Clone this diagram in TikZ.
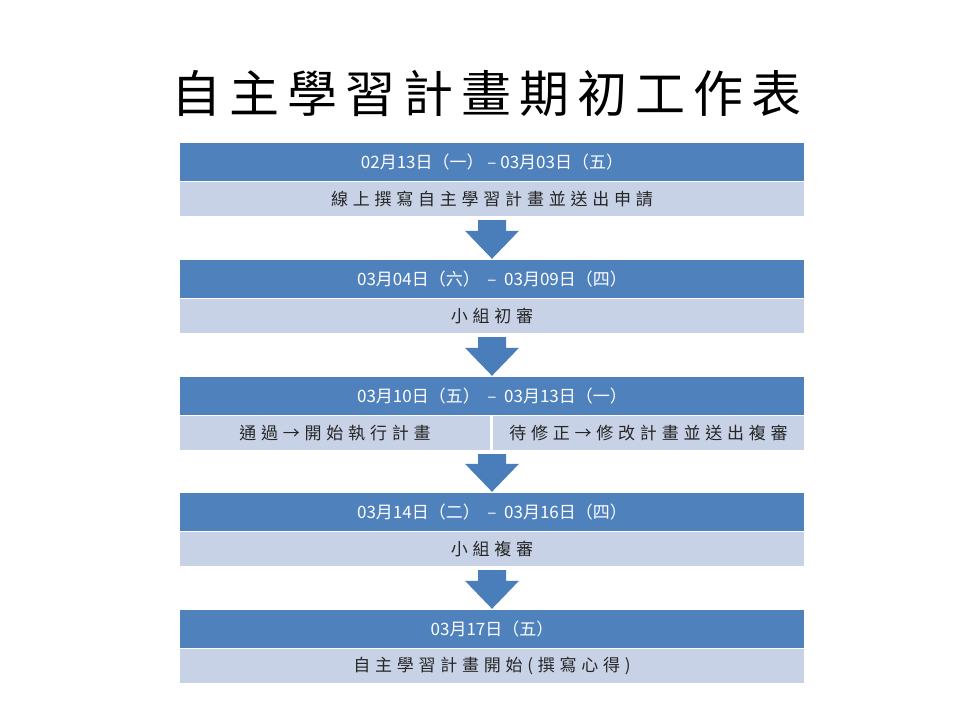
\documentclass[tikz,border=0pt]{standalone}
\usepackage{fontspec}
\setmainfont{Noto Sans CJK TC}
\newfontfamily\titlefont[LetterSpace=16]{Noto Sans CJK TC}
\newfontfamily\bodyfont[LetterSpace=28]{Noto Sans CJK TC}
\newfontfamily\datefont{Noto Sans CJK TC}
\usetikzlibrary{calc}
\definecolor{barblue}{HTML}{4F81BD}
\definecolor{barlight}{HTML}{C8D2E6}
\definecolor{arrowblue}{HTML}{4A7EBB}
\tikzset{
  darkbar/.style={fill=barblue, minimum width=624pt, minimum height=38pt, inner sep=0pt,
    text=white, font=\datefont\fontsize{17pt}{20pt}\selectfont},
  lightbar/.style={fill=barlight, minimum height=34pt, inner sep=0pt,
    text=black!85, font=\bodyfont\fontsize{17pt}{20pt}\selectfont},
  arrowfill/.style={fill=arrowblue},
}
\newcommand{\blkarrow}[2]{%
  \fill[arrowfill] let \p1=(#1.south), \p2=(#2.north) in
    (\x1-14pt,\y1-4pt) -- (\x1+14pt,\y1-4pt) -- (\x1+14pt,\y2+29pt) --
    (\x1+27pt,\y2+29pt) -- (\x1,\y2+1pt) -- (\x1-27pt,\y2+29pt) --
    (\x1-14pt,\y2+29pt) -- cycle;}
\begin{document}
\begin{tikzpicture}[x=1pt,y=-1pt]
\useasboundingbox (0,0) rectangle (960,720);
\fill[white] (0,0) rectangle (960,720);
\node[font=\titlefont\fontsize{50pt}{56pt}\selectfont, inner sep=0pt] (title) at (486,93) {自主學習計畫期初工作表};
% row 1
\node[darkbar] (d1) at (492,162) {02月13日（一）\ –\ 03月03日（五）};
\node[lightbar, minimum width=624pt] (l1) at (492,199) {線上撰寫自主學習計畫並送出申請};
% row 2
\node[darkbar] (d2) at (492,279) {03月04日（六）\ \ –\ \ 03月09日（四）};
\node[lightbar, minimum width=624pt] (l2) at (492,316) {小組初審};
% row 3
\node[darkbar] (d3) at (492,396) {03月10日（五）\ \ –\ \ 03月13日（一）};
\node[lightbar, minimum width=310pt] (l3a) at (335,433) {通過→開始執行計畫};
\node[lightbar, minimum width=311pt] (l3b) at (648.5,433) {待修正→修改計畫並送出複審};
\node[inner sep=0pt, minimum height=34pt, minimum width=0pt] (l3c) at (492,433) {};
% row 4
\node[darkbar] (d4) at (492,512) {03月14日（二）\ \ –\ \ 03月16日（四）};
\node[lightbar, minimum width=624pt] (l4) at (492,549) {小組複審};
% row 5
\node[darkbar] (d5) at (492,629) {03月17日（五）};
\node[lightbar, minimum width=624pt] (l5) at (492,666) {自主學習計畫開始(撰寫心得)};
% arrows
\blkarrow{l1}{d2}
\blkarrow{l2}{d3}
\blkarrow{l3c}{d4}
\blkarrow{l4}{d5}
\end{tikzpicture}
\end{document}
